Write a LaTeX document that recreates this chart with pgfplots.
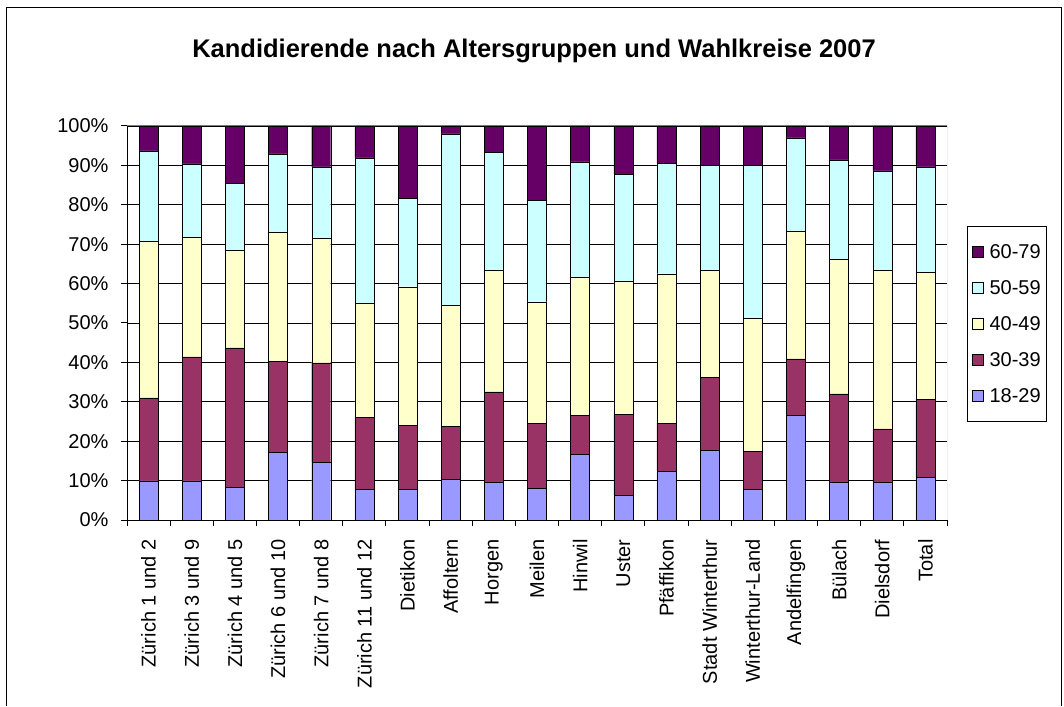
\documentclass[border=0pt]{standalone}
\usepackage{pgfplots}
\pgfplotsset{compat=1.18}
\usepackage{pgfplotstable}
\usepackage{fontspec}
\setmainfont{Liberation Sans}
\definecolor{cA}{HTML}{9999FF}
\definecolor{cB}{HTML}{993366}
\definecolor{cC}{HTML}{FFFFCC}
\definecolor{cD}{HTML}{CCFFFF}
\definecolor{cE}{HTML}{660066}
\newcommand\tickfont{\fontsize{20}{24}\selectfont}
\newcommand\titlefont{\fontsize{25.5}{30}\selectfont\bfseries}
\pgfplotstableread{
x a b c d e
1 9.9 21.1 39.8 22.9 6.3
2 9.9 31.5 30.4 18.6 9.6
3 8.2 35.5 24.8 16.9 14.6
4 17.1 23.2 32.8 19.8 7.1
5 14.7 25.2 31.5 18.2 10.4
6 7.7 18.3 29.0 36.9 8.1
7 7.7 16.4 35.1 22.4 18.4
8 10.4 13.3 30.8 43.5 2.0
9 9.5 23.0 30.9 29.9 6.7
10 8.1 16.5 30.8 25.7 18.9
11 16.6 9.9 35.0 29.4 9.1
12 6.3 20.5 33.8 27.1 12.3
13 12.4 12.2 37.9 28.0 9.5
14 17.6 18.6 27.1 26.7 10.0
15 7.7 9.8 33.6 38.9 10.0
16 26.5 14.4 32.3 23.8 3.0
17 9.5 22.5 34.2 25.2 8.6
18 9.6 13.5 40.3 25.2 11.4
19 10.9 19.7 32.3 26.7 10.4
}\data
\begin{document}
\begin{tikzpicture}[x=1pt,y=1pt]
\useasboundingbox (0,0) rectangle (1064,706);
\draw[black, line width=1pt] (6,0) -- (6,698) -- (1061,698) -- (1061,0);
\node[font=\titlefont, anchor=base] at (534,648) {Kandidierende nach Altersgruppen und Wahlkreise 2007};
\begin{axis}[
  at={(127pt,186pt)}, anchor=south west,
  width=820pt, height=394pt, scale only axis,
  ybar stacked, bar width=19pt,
  xmin=0.5, xmax=19.5, ymin=0, ymax=100,
  axis lines*=left, axis line style={-, black, line width=1pt},
  xtick={1,...,19},
  xticklabels={Zürich 1 und 2, Zürich 3 und 9, Zürich 4 und 5, Zürich 6 und 10, Zürich 7 und 8, Zürich 11 und 12, Dietikon, Affoltern, Horgen, Meilen, Hinwil, Uster, Pfäffikon, Stadt Winterthur, Winterthur-Land, Andelfingen, Bülach, Dielsdorf, Total},
  major x tick style={draw=none},
  minor xtick={0.5,1.5,...,19.5},
  minor x tick style={black, line width=1pt},
  minor tick length=6pt,
  ytick={0,10,...,100},
  yticklabels={0\%,10\%,20\%,30\%,40\%,50\%,60\%,70\%,80\%,90\%,100\%},
  ytick style={black, line width=1pt},
  major tick length=6pt,
  tick align=outside,
  ymajorgrids, major grid style={black, line width=0.9pt},
  xticklabel style={font=\tickfont, rotate=90, anchor=east},
  xticklabel shift=10pt,
  yticklabel style={font=\tickfont},
  yticklabel shift=9pt,
  every bar/.append style={draw=black, line width=1.4pt},
  legend style={at={(1.0244,0.746)}, anchor=north west, draw=black, line width=1pt,
    font=\tickfont, row sep=16.5pt, inner xsep=4pt, inner ysep=16pt,
    cells={anchor=west}},
  reverse legend,
  legend image code/.code={\draw[#1, draw=black, line width=1pt] (3pt,-5.5pt) rectangle (14pt,5.5pt); \path (18pt,0pt);},
]
\addplot[fill=cA] table[x=x,y=a]{\data};
\addplot[fill=cB] table[x=x,y=b]{\data};
\addplot[fill=cC] table[x=x,y=c]{\data};
\addplot[fill=cD] table[x=x,y=d]{\data};
\addplot[fill=cE] table[x=x,y=e]{\data};
\legend{18-29,30-39,40-49,50-59,60-79}
\draw[gray, line width=1pt] (rel axis cs:0,1) -- (rel axis cs:1,1) -- (rel axis cs:1,0);
\end{axis}
\end{tikzpicture}
\end{document}
